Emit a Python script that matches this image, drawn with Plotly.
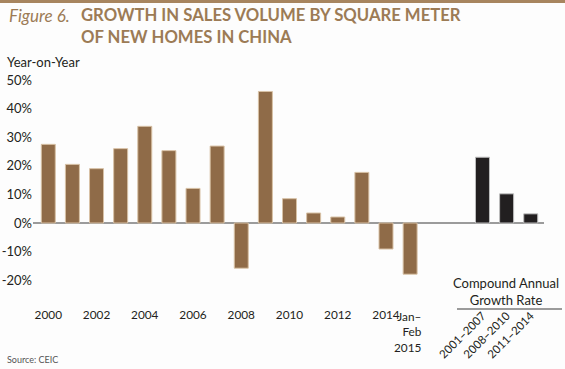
import plotly.graph_objects as go

# ---- data ----
years = ["2000", "2001", "2002", "2003", "2004", "2005", "2006", "2007",
         "2008", "2009", "2010", "2011", "2012", "2013", "2014", "Jan–Feb 2015"]
yoy_growth = [27.5, 20.5, 19.0, 26.0, 33.8, 25.3, 12.1, 26.9,
              -15.8, 46.0, 8.5, 3.5, 2.1, 17.7, -9.1, -17.9]
year_tick_labels = ["2000", "2002", "2004", "2006", "2008", "2010", "2012", "2014"]
year_tick_index = [0, 2, 4, 6, 8, 10, 12, 14]
last_period_label = "Jan–<br>Feb<br>2015"
cagr_periods = ["2001–2007", "2008–2010", "2011–2014"]
cagr_values = [23.0, 10.2, 3.2]
y_ticks = [-20, -10, 0, 10, 20, 30, 40, 50]
y_tick_labels = ["-20%", "-10%", "0%", "10%", "20%", "30%", "40%", "50%"]

# ---- layout constants ----
W, H = 565, 369
ML, MR, MT, MB = 33, 21, 78, 63
GAP_SLOTS = 3  # empty slots between yearly bars and CAGR bars
BROWN = "#8f6b48"
TITLE_C = "#9c7b55"
FONT = "Lato"

x_years = list(range(len(years)))
x_cagr = [len(years) - 1 + GAP_SLOTS + i for i in range(len(cagr_values))]
x_ticks_years = [x_years[i] for i in year_tick_index]

fig = go.Figure()
fig.add_trace(go.Bar(x=x_years, y=yoy_growth, width=0.58,
                     marker=dict(color=BROWN, line=dict(color="#d8c2a6", width=1)),
                     hoverinfo="y", xaxis="x", yaxis="y"))
fig.add_trace(go.Bar(x=x_cagr, y=cagr_values, width=0.58,
                     marker=dict(color="#221f20", line=dict(color="#bdbdbd", width=1)),
                     hoverinfo="y", xaxis="x2", yaxis="y"))

xr = [-0.634, 20.55]
yr = [-29.02, 50.7]
ph = H - MT - MB
pw = W - ML - MR

def py(pix):  # pixel y -> paper y
    return (H - MB - pix) / ph

def px(pix):
    return (pix - ML) / pw

fig.update_layout(
    width=W, height=H,
    margin=dict(l=ML, r=MR, t=MT, b=MB, pad=0, autoexpand=False),
    paper_bgcolor="#fdfdfd", plot_bgcolor="#fdfdfd",
    showlegend=False, barmode="overlay",
    font=dict(family=FONT, size=13, color="#231f20"),
    xaxis=dict(range=xr, tickmode="array", tickvals=x_ticks_years,
               ticktext=year_tick_labels, showgrid=False, zeroline=False,
               showline=False, ticks="", tickangle=0, automargin=False,
               tickfont=dict(size=11.8)),
    xaxis2=dict(range=xr, overlaying="x", side="bottom", tickmode="array",
                tickvals=x_cagr, ticktext=cagr_periods, tickangle=-45,
                showgrid=False, zeroline=False, showline=False, ticks="",
                automargin=False, tickfont=dict(size=11.5)),
    yaxis=dict(range=yr, tickmode="array", tickvals=y_ticks,
               ticktext=y_tick_labels, showgrid=False, zeroline=True,
               zerolinecolor="#9b9b9b", zerolinewidth=2, showline=False,
               ticks="", automargin=False, tickfont=dict(size=13)),
)

annotations = [
    dict(text="<i>Figure 6.</i>", x=px(7), y=py(15.5), xanchor="left", yanchor="middle",
         font=dict(size=17, color=TITLE_C, family=FONT)),
    dict(text="<b>GROWTH IN SALES VOLUME BY SQUARE METER</b>", x=px(79), y=py(15.5),
         xanchor="left", yanchor="middle", font=dict(size=16.7, color=TITLE_C, family=FONT)),
    dict(text="<b>OF NEW HOMES IN CHINA</b>", x=px(79), y=py(37),
         xanchor="left", yanchor="middle", font=dict(size=16.7, color=TITLE_C, family=FONT)),
    dict(text="Year-on-Year", x=px(5), y=py(62), xanchor="left", yanchor="middle",
         font=dict(size=13)),
    dict(text="Compound Annual<br>Growth Rate", x=px(506), y=py(291), xanchor="center",
         yanchor="middle", font=dict(size=13)),
    dict(text="Source: CEIC", x=px(5), y=py(359), xanchor="left", yanchor="middle",
         font=dict(size=9, color="#555")),
]
for a in annotations:
    a.update(xref="paper", yref="paper", showarrow=False)
# label for the partial-year bar, right-aligned under its bar
annotations.append(dict(text=last_period_label, x=x_years[-1], xref="x", y=py(306.5),
                        yref="paper", xanchor="right", yanchor="top", xshift=13.5,
                        align="right", showarrow=False, font=dict(size=11.8)))
fig.update_layout(annotations=annotations)

fig.update_layout(shapes=[
    dict(type="rect", xref="paper", yref="paper", x0=px(0), x1=px(W), y0=py(0), y1=py(3),
         fillcolor="#a7855f", line=dict(width=0)),
    dict(type="line", xref="paper", yref="paper", x0=px(457), x1=px(562),
         y0=py(309), y1=py(309), line=dict(color="#9b9b9b", width=2)),
])

fig.write_html("out.html", config={"displayModeBar": False},
               post_script="document.body.style.margin='0px';")
